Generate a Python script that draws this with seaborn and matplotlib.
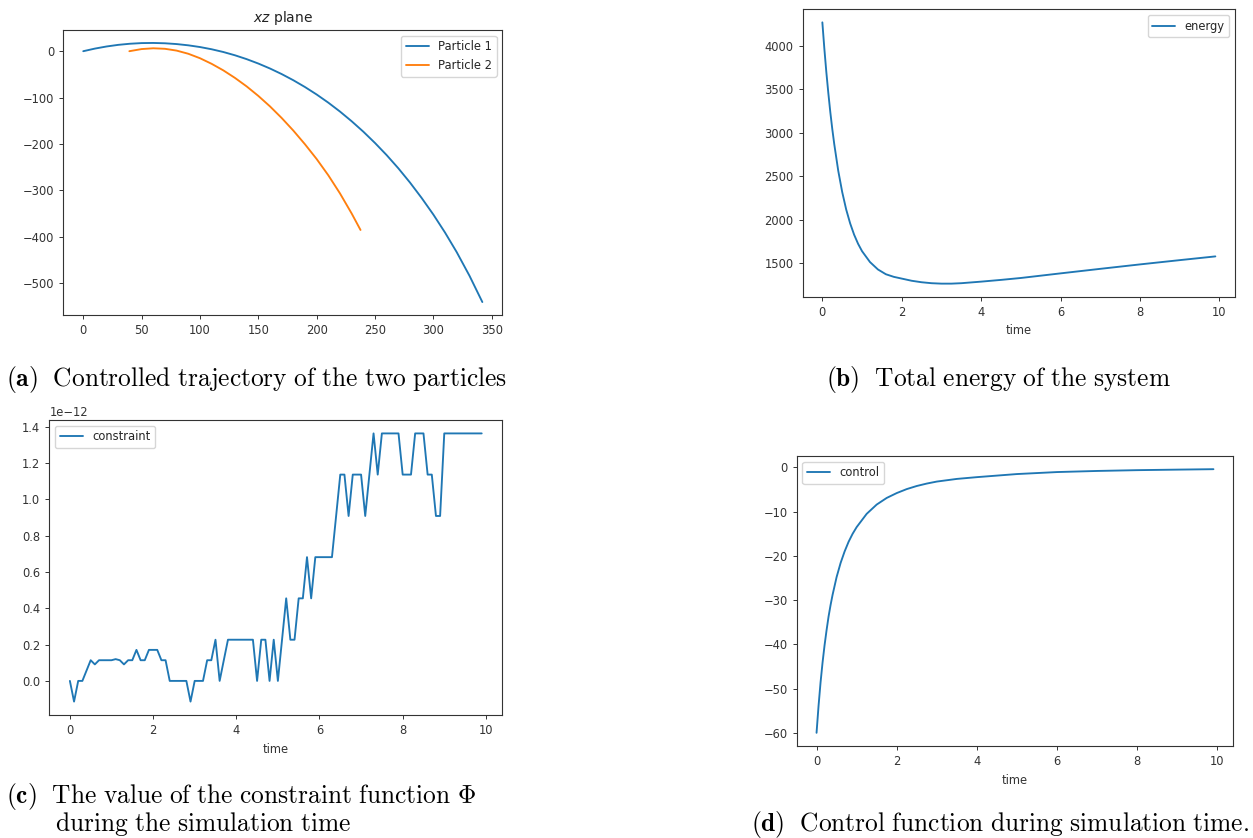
import numpy as np
import pandas as pd
import matplotlib
matplotlib.use("Agg")
import matplotlib.pyplot as plt
import seaborn as sns

# ---------------- data ----------------
# (a) trajectories in the xz plane
p1_x = [0, 10, 20, 30, 40, 50, 60, 70, 80, 90, 100, 110, 120, 130, 140, 150, 160, 170,
        180, 190, 200, 210, 220, 230, 240, 250, 260, 270, 280, 290, 300, 310, 320, 331, 342]
p1_z = [0, 5.65, 10.2, 13.7, 16.1, 17.5, 17.8, 17.1, 15.4, 12.7, 9.0, 4.2, -1.7, -8.8,
        -17.1, -26.6, -37.3, -49.3, -62.6, -77.3, -93.4, -111.0, -130.2, -151.1, -173.6,
        -198.0, -224.2, -252.6, -283.4, -316.7, -352.4, -391.2, -433.4, -484.6, -541.2]
p2_x = [39.5, 50, 60, 70, 80, 90, 100, 110, 120, 130, 140, 150, 160, 170, 180, 190, 200,
        210, 220, 230, 237.6]
p2_z = [0, 4.6, 6.3, 5.2, 1.3, -5.5, -15.1, -27.2, -41.3, -57.6, -75.9, -96.4, -119.0,
        -144.0, -171.2, -200.8, -232.6, -267.7, -306.8, -350.1, -385.7]

# (b) total energy
energy_t = [0, 0.05, 0.1, 0.15, 0.2, 0.25, 0.3, 0.4, 0.5, 0.6, 0.7, 0.8, 0.9, 1.0, 1.2, 1.4,
            1.6, 1.8, 2.0, 2.25, 2.5, 2.75, 3.0, 3.25, 3.5, 4.0, 4.5, 5.0, 6.0, 7.0, 8.0,
            9.0, 9.9]
energy_v = [4270, 3970, 3700, 3460, 3240, 3045, 2870, 2565, 2320, 2120, 1960, 1830, 1725,
            1640, 1515, 1430, 1375, 1345, 1325, 1300, 1283, 1272, 1267, 1267, 1272, 1290,
            1310, 1332, 1385, 1437, 1488, 1537, 1580]

# (c) constraint value (x 1e-12)
constraint_t = np.round(np.arange(100) * 0.1, 1)
constraint_v = [0.0, -0.114, 0.0, 0.0, 0.057, 0.114, 0.091, 0.114, 0.114, 0.114,
                0.114, 0.12, 0.114, 0.091, 0.114, 0.114, 0.171, 0.114, 0.114, 0.171,
                0.171, 0.171, 0.114, 0.114, 0.0, 0.0, 0.0, 0.0, 0.0, -0.114,
                0.0, 0.0, 0.0, 0.114, 0.114, 0.227, 0.0, 0.114, 0.227, 0.227,
                0.227, 0.227, 0.227, 0.227, 0.227, 0.0, 0.227, 0.227, 0.0, 0.227,
                0.0, 0.227, 0.455, 0.227, 0.227, 0.455, 0.455, 0.682, 0.455, 0.682,
                0.682, 0.682, 0.682, 0.682, 0.909, 1.137, 1.137, 0.909, 1.137, 1.137,
                1.137, 0.909, 1.137, 1.364, 1.137, 1.364, 1.364, 1.364, 1.364, 1.364,
                1.137, 1.137, 1.137, 1.364, 1.364, 1.364, 1.137, 1.137, 0.909, 0.909,
                1.364, 1.364, 1.364, 1.364, 1.364, 1.364, 1.364, 1.364, 1.364, 1.364]
constraint_scale = 1e-12

# (d) control
control_t = [0, 0.05, 0.1, 0.15, 0.2, 0.25, 0.3, 0.35, 0.4, 0.5, 0.6, 0.7, 0.8, 0.9, 1.0,
             1.25, 1.5, 1.75, 2.0, 2.25, 2.5, 2.75, 3.0, 3.5, 4.0, 5.0, 6.0, 7.0, 8.0,
             9.0, 9.9]
control_v = [-60, -53.9, -48.6, -44.1, -40.2, -36.8, -33.7, -31.1, -28.8, -24.8, -21.6,
             -19.0, -16.8, -15.0, -13.5, -10.5, -8.4, -6.9, -5.8, -4.9, -4.2, -3.65,
             -3.2, -2.6, -2.2, -1.5, -1.05, -0.8, -0.62, -0.5, -0.4]

captions = {
    "a": r"$\mathbf{(a)}\ \ \mathrm{Controlled\ trajectory\ of\ the\ two\ particles}$",
    "b": r"$\mathbf{(b)}\ \ \mathrm{Total\ energy\ of\ the\ system}$",
    "c1": r"$\mathbf{(c)}\ \ \mathrm{The\ value\ of\ the\ constraint\ function\ }\Phi$",
    "c2": r"$\mathrm{during\ the\ simulation\ time}$",
    "d": r"$\mathbf{(d)}\ \ \mathrm{Control\ function\ during\ simulation\ time.}$",
}

# ---------------- style ----------------
sns.set_style("white")
fs = 8.3
plt.rcParams.update({
    "font.family": ["DejaVu Sans"],
    "font.size": fs,
    "axes.edgecolor": "#333333",
    "axes.linewidth": 0.8,
    "xtick.color": "#333333",
    "ytick.color": "#333333",
    "xtick.labelcolor": "#333333",
    "ytick.labelcolor": "#333333",
    "xtick.bottom": True,
    "ytick.left": True,
    "xtick.major.size": 3,
    "ytick.major.size": 3,
    "xtick.major.width": 0.7,
    "ytick.major.width": 0.7,
    "xtick.labelsize": fs,
    "ytick.labelsize": fs,
    "legend.fontsize": fs,
    "axes.labelsize": fs,
    "axes.labelcolor": "#333333",
})

W, H = 1253, 838
fig = plt.figure(figsize=(W / 100, H / 100), dpi=100)

def ax_px(l, r, t, b):
    return fig.add_axes([l / W, (H - b) / H, (r - l) / W, (b - t) / H])

blue = "#1f77b4"
orange = "#ff7f0e"
lw = 1.35

# (a)
axa = ax_px(63.3, 502.3, 30, 315)
sns.lineplot(x=p1_x, y=p1_z, sort=False, color=blue, lw=lw, label="Particle 1", ax=axa)
sns.lineplot(x=p2_x, y=p2_z, sort=False, color=orange, lw=lw, label="Particle 2", ax=axa)
axa.set_title(r"$xz$ plane", fontsize=10, color="#222222")
axa.set_xticks([0, 50, 100, 150, 200, 250, 300, 350])
axa.set_yticks([0, -100, -200, -300, -400, -500])
axa.legend(loc="upper right")

# (b)
axb = ax_px(802.7, 1235, 9.3, 296.7)
sns.lineplot(x=energy_t, y=energy_v, color=blue, lw=lw, label="energy", ax=axb)
axb.set_xlabel("time")
axb.set_xticks([0, 2, 4, 6, 8, 10])
axb.set_yticks([1500, 2000, 2500, 3000, 3500, 4000])
axb.legend(loc="upper right")

# (c)
axc = ax_px(49.3, 502.3, 420, 715)
cvals = np.array(constraint_v) * constraint_scale
sns.lineplot(x=constraint_t, y=cvals, color=blue, lw=lw, label="constraint", ax=axc)
axc.set_xlabel("time")
axc.set_xticks([0, 2, 4, 6, 8, 10])
axc.set_yticks(np.array([0.0, 0.2, 0.4, 0.6, 0.8, 1.0, 1.2, 1.4]) * constraint_scale)
axc.legend(loc="upper left")

# (d)
axd = ax_px(796.7, 1233.3, 456, 746)
sns.lineplot(x=control_t, y=control_v, color=blue, lw=lw, label="control", ax=axd)
axd.set_xlabel("time")
axd.set_xticks([0, 2, 4, 6, 8, 10])
axd.set_yticks([0, -10, -20, -30, -40, -50, -60])
axd.legend(loc="upper left")

for ax in (axa, axb, axc, axd):
    for s in ax.spines.values():
        s.set_visible(True)
    ax.set_ylabel("")

# captions
cfs = 18.3
def cap(x, y, s):
    fig.text(x / W, (H - y) / H, s, fontsize=cfs, math_fontfamily="cm",
             ha="left", va="center", color="black")

cap(6, 379, captions["a"])
cap(826, 379, captions["b"])
cap(6, 796, captions["c1"])
cap(55, 824, captions["c2"])
cap(751, 824, captions["d"])

fig.savefig("out.png", dpi=100)
